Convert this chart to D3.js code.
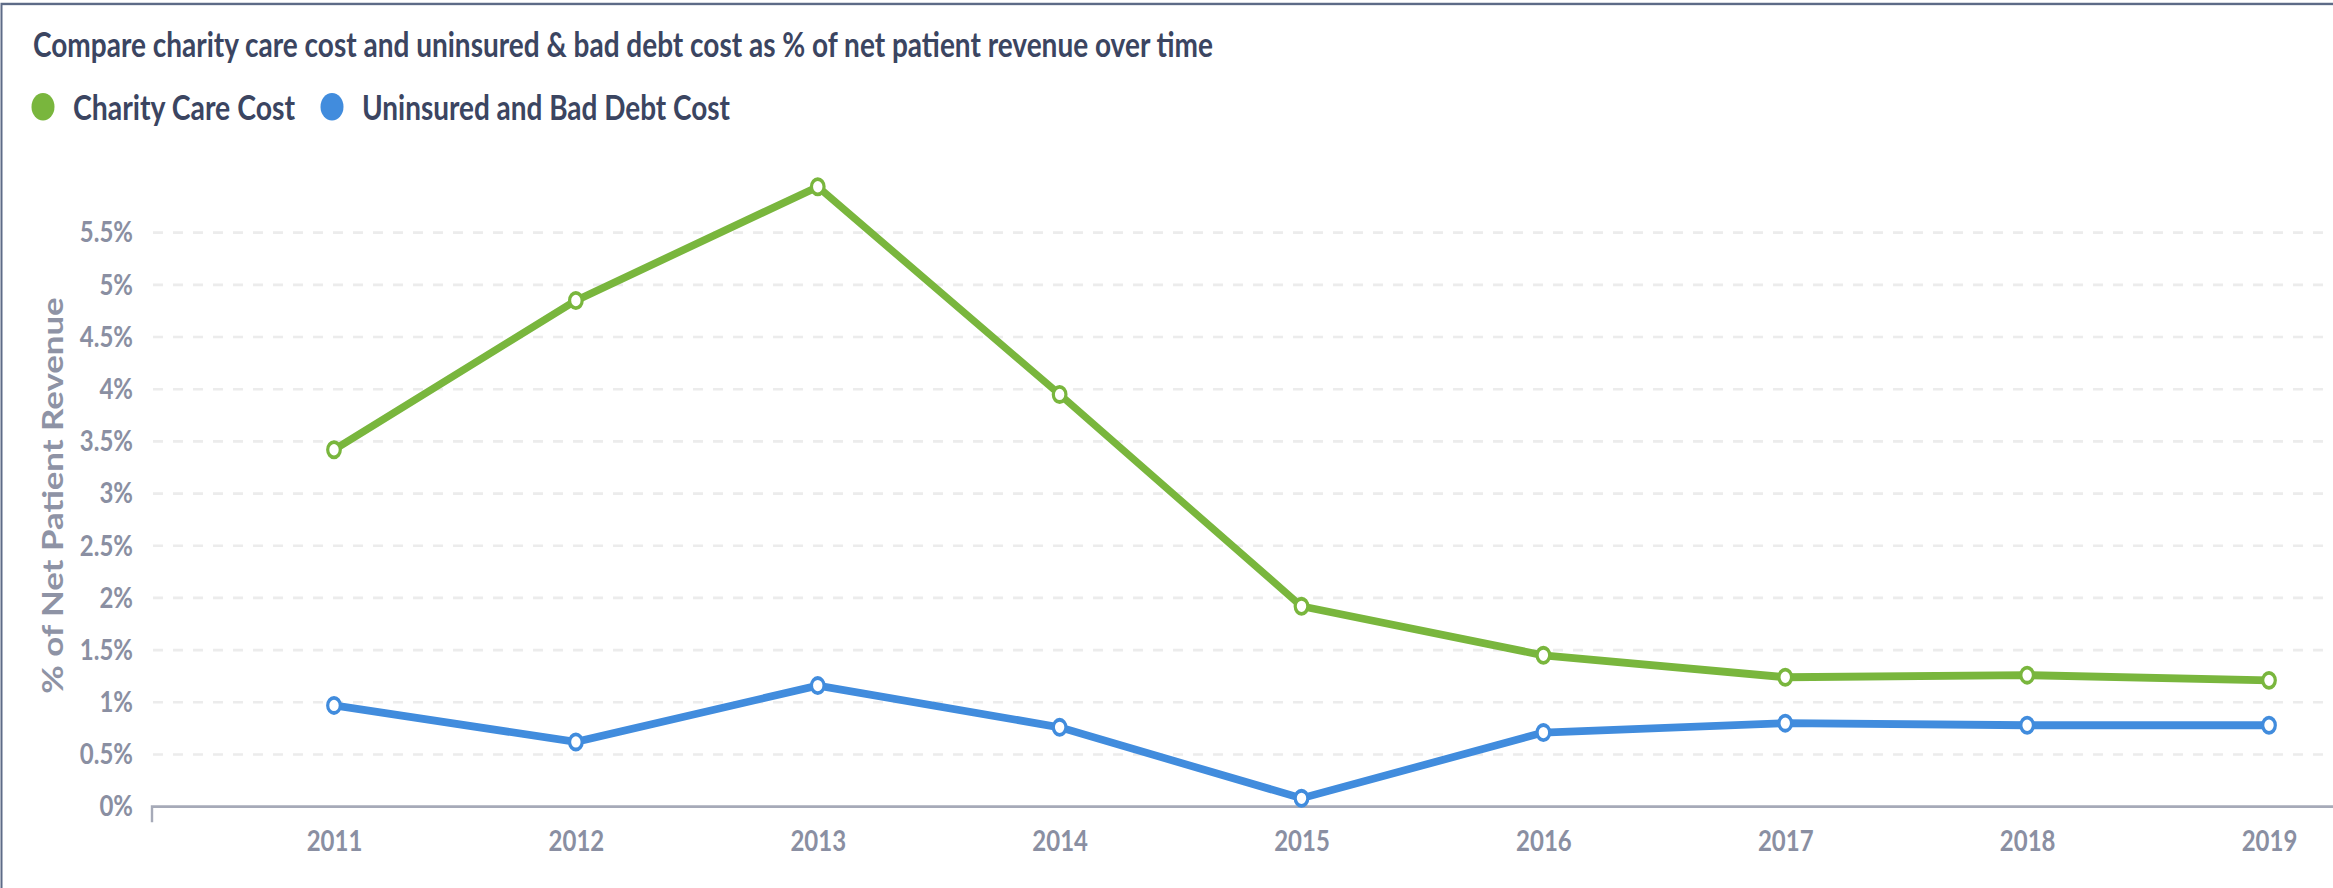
<!DOCTYPE html>
<html>
<head>
<meta charset="utf-8">
<script src="https://cdn.jsdelivr.net/npm/d3@7"></script>
<style>
    html, body { margin: 0; padding: 0; background: #fff; }
    svg { display: block; font-family: Lato, "Open Sans", sans-serif; }
</style>
</head>
<body>
<svg id="chart"></svg>
<script>
// data
const years = ["2011", "2012", "2013", "2014", "2015", "2016", "2017", "2018", "2019"];
const charityCare = [3.42, 4.85, 5.94, 3.95, 1.92, 1.45, 1.24, 1.26, 1.21];
const uninsuredBadDebt = [0.97, 0.62, 1.16, 0.76, 0.08, 0.71, 0.80, 0.78, 0.78];
const yTicks = [0, 0.5, 1, 1.5, 2, 2.5, 3, 3.5, 4, 4.5, 5, 5.5];
const seriesNames = ["Charity Care Cost", "Uninsured and Bad Debt Cost"];
const seriesColors = ["#79b63d", "#418cdd"];

const width = 2333, height = 888;
// the original picture is stretched vertically, so draw in a shorter
// coordinate space and let the viewBox stretch it
const vh = 740;

const svg = d3.select("#chart")
    .attr("width", width)
    .attr("height", height)
    .attr("viewBox", `0 0 ${width} ${vh}`)
    .attr("preserveAspectRatio", "none");

// frame
svg.append("rect")
    .attr("x", 1.5).attr("y", 3.3)
    .attr("width", width + 20).attr("height", vh + 20)
    .attr("fill", "none")
    .attr("stroke", "#5d6b87")
    .attr("stroke-width", 2);

// title
svg.append("text")
    .attr("x", 33).attr("y", 47.5)
    .attr("fill", "#3b4561")
    .attr("font-size", 28)
    .attr("font-weight", 700)
    .attr("textLength", 1180)
    .attr("lengthAdjust", "spacingAndGlyphs")
    .text("Compare charity care cost and uninsured & bad debt cost as % of net patient revenue over time");

// legend
const legendX = [43, 332];
const legendW = [222, 368];
seriesNames.forEach((name, i) => {
    svg.append("circle")
        .attr("cx", legendX[i]).attr("cy", 89)
        .attr("r", 11.5)
        .attr("fill", seriesColors[i]);
    svg.append("text")
        .attr("x", legendX[i] + 30).attr("y", 100)
        .attr("fill", "#3b4561")
        .attr("font-size", 28)
        .attr("font-weight", 700)
        .attr("textLength", legendW[i])
        .attr("lengthAdjust", "spacingAndGlyphs")
        .text(name);
});

// scales
const x = d3.scalePoint().domain(years).range([334, 2269]);
const y = d3.scaleLinear().domain([0, 5.5]).range([672.2, 193.9]);
const plotLeft = 152;

// dashed gridlines
svg.append("g")
    .selectAll("line")
    .data(yTicks.filter(d => d > 0))
    .join("line")
    .attr("x1", plotLeft + 1).attr("x2", width)
    .attr("y1", d => y(d)).attr("y2", d => y(d))
    .attr("stroke", "#ececec")
    .attr("stroke-width", 2.2)
    .attr("stroke-dasharray", "10,10");

// y axis labels
svg.append("g")
    .attr("transform", `translate(${plotLeft}, 0)`)
    .call(d3.axisLeft(y).tickValues(yTicks).tickFormat(d => d + "%").tickSize(0).tickPadding(19))
    .call(g => g.select(".domain").remove())
    .selectAll("text")
    .attr("fill", "#8a8fa2")
    .attr("font-size", 24)
    .attr("font-weight", 700)
    .attr("font-family", "Lato");

// x axis labels
svg.append("g")
    .attr("transform", `translate(0, ${y(0)})`)
    .call(d3.axisBottom(x).tickSize(0).tickPadding(20))
    .call(g => g.select(".domain").remove())
    .selectAll("text")
    .attr("fill", "#8a8fa2")
    .attr("font-size", 24)
    .attr("font-weight", 700)
    .attr("font-family", "Lato");

// x axis baseline with small tick at the left end
svg.append("path")
    .attr("d", `M${plotLeft},${y(0) + 13}V${y(0)}H${width}`)
    .attr("fill", "none")
    .attr("stroke", "#a6aab8")
    .attr("stroke-width", 2.4);

// y axis title
svg.append("text")
    .attr("transform", `translate(63, 413) rotate(-90)`)
    .attr("text-anchor", "middle")
    .attr("fill", "#8e93a5")
    .attr("font-size", 29)
    .attr("font-weight", 700)
    .text("% of Net Patient Revenue");

// lines and markers
const line = d3.line()
    .x((d, i) => x(years[i]))
    .y(d => y(d));

[uninsuredBadDebt, charityCare].forEach((values, k) => {
    const color = seriesColors[1 - k];
    svg.append("path")
        .datum(values)
        .attr("d", line)
        .attr("fill", "none")
        .attr("stroke", color)
        .attr("stroke-width", 6.5)
        .attr("stroke-linejoin", "round");
    svg.append("g")
        .selectAll("circle")
        .data(values)
        .join("circle")
        .attr("cx", (d, i) => x(years[i]))
        .attr("cy", d => y(d))
        .attr("r", 6.3)
        .attr("fill", "#fff")
        .attr("stroke", color)
        .attr("stroke-width", 3.2);
});
</script>
</body>
</html>
